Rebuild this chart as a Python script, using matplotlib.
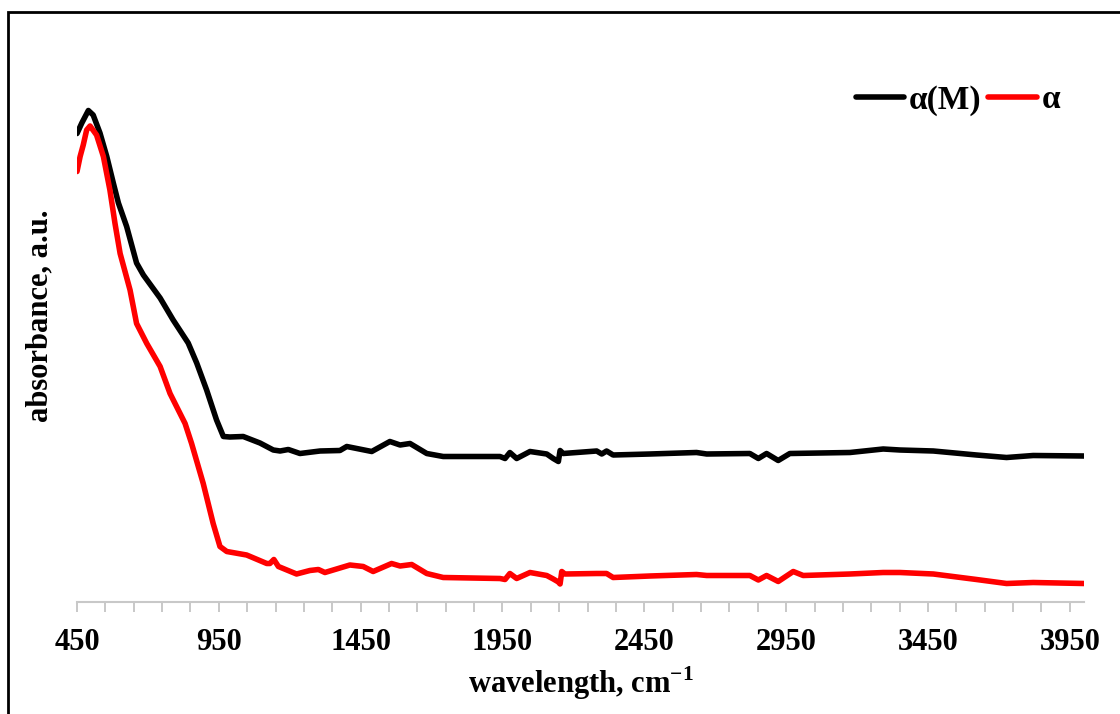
import numpy as np
import matplotlib.pyplot as plt
from matplotlib.patches import Rectangle

plt.rcParams['font.family'] = ['Liberation Serif', 'DejaVu Serif']
plt.rcParams['font.weight'] = 'bold'
plt.rcParams['mathtext.fontset'] = 'custom'
plt.rcParams['mathtext.bf'] = 'Liberation Serif:bold'
plt.rcParams['mathtext.rm'] = 'Liberation Serif:bold'

# alpha(M) sample
wn_m = [450, 467, 490, 507, 531, 555, 578, 596, 625, 660, 684, 743, 789, 842, 872,
        907, 942, 966, 989, 1036, 1095, 1142, 1166, 1195, 1236, 1307, 1377, 1401,
        1489, 1553, 1589, 1624, 1683, 1741, 1941, 1959, 1976, 2000, 2047, 2106,
        2129, 2147, 2153, 2164, 2282, 2300, 2317, 2340, 2470, 2634, 2670, 2822,
        2852, 2881, 2922, 2963, 3175, 3292, 3351, 3469, 3621, 3727, 3821, 4000]
abs_m = [0.937, 0.958, 0.983, 0.974, 0.938, 0.891, 0.838, 0.798, 0.751, 0.678,
         0.654, 0.608, 0.564, 0.518, 0.478, 0.424, 0.364, 0.331, 0.330, 0.331,
         0.318, 0.304, 0.302, 0.305, 0.297, 0.302, 0.303, 0.311, 0.301, 0.321,
         0.314, 0.317, 0.297, 0.291, 0.291, 0.287, 0.299, 0.287, 0.301, 0.296,
         0.287, 0.281, 0.303, 0.297, 0.302, 0.296, 0.302, 0.294, 0.296, 0.299,
         0.296, 0.297, 0.287, 0.297, 0.283, 0.297, 0.299, 0.306, 0.304, 0.302,
         0.294, 0.289, 0.293, 0.292]

# alpha sample
wn_a = [450, 461, 472, 484, 496, 519, 543, 566, 584, 602, 637, 660, 696, 743, 778,
        831, 854, 895, 930, 954, 978, 1048, 1119, 1130, 1144, 1160, 1224, 1271,
        1301, 1324, 1412, 1459, 1494, 1559, 1589, 1630, 1683, 1741, 1941, 1959,
        1976, 2000, 2047, 2106, 2129, 2147, 2153, 2159, 2170, 2282, 2317, 2340,
        2470, 2634, 2670, 2822, 2852, 2881, 2922, 2975, 3010, 3175, 3292, 3351,
        3469, 3621, 3727, 3821, 4000]
abs_a = [0.861, 0.891, 0.914, 0.944, 0.952, 0.934, 0.891, 0.824, 0.757, 0.697,
         0.624, 0.557, 0.517, 0.471, 0.417, 0.357, 0.317, 0.237, 0.157, 0.111,
         0.101, 0.094, 0.077, 0.077, 0.085, 0.071, 0.056, 0.063, 0.065, 0.059,
         0.074, 0.071, 0.061, 0.077, 0.072, 0.075, 0.057, 0.049, 0.047, 0.045,
         0.057, 0.047, 0.059, 0.053, 0.046, 0.040, 0.036, 0.061, 0.056, 0.057,
         0.057, 0.049, 0.052, 0.055, 0.053, 0.053, 0.044, 0.053, 0.041, 0.061,
         0.053, 0.056, 0.059, 0.059, 0.056, 0.045, 0.037, 0.039, 0.037]

label_ticks = [450, 950, 1450, 1950, 2450, 2950, 3450, 3950]

fig = plt.figure(figsize=(11.2, 7.14), dpi=100)
ax = fig.add_axes([77 / 1120, 1 - 602 / 714, (1084 - 77) / 1120, (602 - 30) / 714])

ax.plot(wn_m, abs_m, color='black', lw=4, label='α(M)',
        solid_capstyle='round', solid_joinstyle='round')
ax.plot(wn_a, abs_a, color='#ff0000', lw=4, label='α',
        solid_capstyle='round', solid_joinstyle='round')

ax.set_xlim(450, 4000)
ax.set_ylim(0, (602 - 30) / 500)

ax.set_xticks(label_ticks)
ax.set_xticks(np.arange(450, 4001, 100), minor=True)
ax.tick_params(axis='x', which='both', direction='out', length=7, width=1.2,
               color='#bfbfbf', labelsize=22, pad=12)
ax.tick_params(axis='y', left=False, labelleft=False)
for side in ['top', 'right', 'left']:
    ax.spines[side].set_visible(False)
ax.spines['bottom'].set_color('#c8c8c8')
ax.spines['bottom'].set_linewidth(1.5)

ax.set_xlabel('wavelength, cm$^{\\mathbf{-1}}$', fontsize=22, fontweight='bold', labelpad=5)
ax.set_ylabel('absorbance, a.u.', fontsize=22, fontweight='bold', labelpad=16)

leg = ax.legend(loc='center', bbox_to_anchor=(958 / 1120, 1 - 100 / 714),
                bbox_transform=fig.transFigure, ncol=2, frameon=False, fontsize=24,
                handlelength=1.45, handletextpad=0.15, columnspacing=0.2)
for h in leg.get_lines():
    h.set_linewidth(4)

# outer frame
fig.patches.append(Rectangle((8 / 1120, -0.05), 1.2, 1 - 12 / 714 + 0.05, transform=fig.transFigure,
                             fill=False, edgecolor='black', lw=2))

fig.savefig('out.png', dpi=100)
